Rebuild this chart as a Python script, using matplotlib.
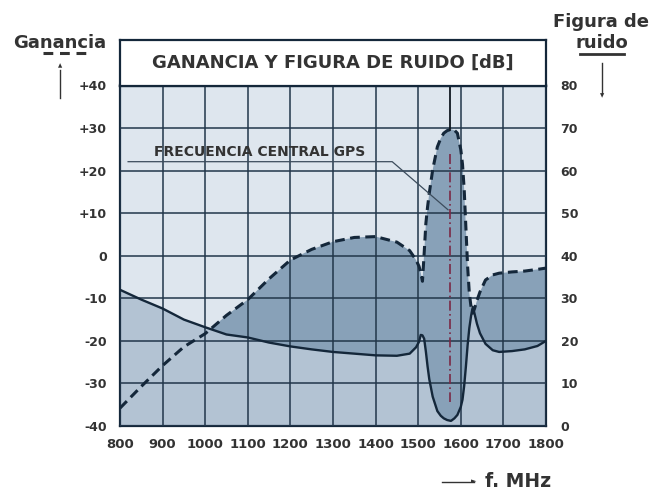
import numpy as np
import matplotlib
matplotlib.use("Agg")
from matplotlib import pyplot as plt

# frecuencia (MHz), ganancia (dB, eje izq.), figura de ruido (dB, eje der.)
freq = [800, 850, 900, 950, 1000, 1050, 1100, 1150, 1200, 1250, 1300, 1350,
        1400, 1450, 1480, 1495, 1502, 1506, 1510, 1514, 1518, 1522, 1526,
        1534, 1545, 1553, 1560, 1568, 1577, 1585, 1592, 1600, 1604, 1608,
        1612, 1616, 1620, 1624, 1628, 1632, 1638, 1645, 1658, 1675, 1690,
        1720, 1750, 1780, 1800]
gain = [-35.8, -30.7, -25.8, -21.4, -18.3, -14.0, -10.3, -5.4, -1.0, 1.5,
        3.3, 4.3, 4.5, 3.2, 1.2, -1.0, -2.5, -4.0, -6.0, 0.6, 7.6, 11.5,
        14.7, 20.2, 25.6, 27.6, 28.8, 29.4, 29.7, 29.5, 28.8, 24.9, 21.5,
        15.5, 6.5, -2.5, -8.8, -12.0, -13.5, -12.5, -10.5, -8.5, -5.7, -4.5,
        -4.1, -3.8, -3.6, -3.2, -2.9]
noise = [32.0, 29.7, 27.6, 25.0, 23.2, 21.5, 20.8, 19.6, 18.7, 18.0, 17.4,
         17.0, 16.6, 16.5, 17.0, 18.5, 19.8, 21.4, 21.3, 20.5, 17.5, 14.0,
         11.0, 6.9, 3.5, 2.4, 1.8, 1.4, 1.2, 1.8, 2.6, 4.5, 6.2, 9.5, 14.0,
         19.0, 23.0, 25.8, 28.0, 26.5, 24.0, 21.8, 19.3, 17.8, 17.4, 17.6,
         18.0, 18.8, 20.0]

gain_ticks = ['-40', '-30', '-20', '-10', '0', '+10', '+20', '+30', '+40']
noise_ticks = ['0', '10', '20', '30', '40', '50', '60', '70', '80']
freq_ticks = list(range(800, 1801, 100))
gps_freq = 1575.42

W, H = 671, 497
line_col = '#14273a'
text_col = '#333333'

f = np.array(freq)
g = np.array(gain)
nf = np.array(noise) - 40  # en unidades del eje izquierdo

fig = plt.figure(figsize=(W / 100, H / 100), dpi=100)
ax = fig.add_axes([120 / W, 1 - 426 / H, 426 / W, 340.5 / H])
ax.set_xlim(800, 1800)
ax.set_ylim(-40, 40)
ax.set_facecolor('#dee6ee')

ax.fill_between(f, -40, nf, color='#b3c3d3', lw=0, zorder=1)
ax.fill_between(f, nf, g, where=g > nf, interpolate=True,
                color='#88a1b8', lw=0, zorder=1)

ax.set_xticks(freq_ticks)
ax.set_yticks(range(-40, 41, 10))
ax.set_yticklabels(gain_ticks)
ax.grid(color='#22364a', lw=1.1, zorder=2)
ax.set_axisbelow(False)
for s in ax.spines.values():
    s.set_linewidth(1.6)
    s.set_color(line_col)
ax.tick_params(length=0, labelcolor=text_col)
ax.tick_params(axis='y', pad=9.5, labelsize=9)
ax.tick_params(axis='x', pad=9, labelsize=9.5)
for lab in ax.get_xticklabels() + ax.get_yticklabels():
    lab.set_fontweight('bold')

# curvas
ax.plot(f, nf, color=line_col, lw=1.7, zorder=4)
ax.plot(f, g, color=line_col, lw=2.2, dashes=(3.2, 1.8), zorder=4)

# frecuencia central GPS
ax.plot([gps_freq, gps_freq], [40, 29.6], color='#101820', lw=1.3, zorder=5)
ax.plot([gps_freq, gps_freq], [24, -34.3], color='#7a2845', lw=1.2,
        dashes=(6, 2, 1, 2), zorder=5)
ax.plot([819, 1439, 1570], [22.1, 22.1, 10.8], color='#3c4c5c', lw=0.9, zorder=5)
ax.text(1128, 24.3, 'FRECUENCIA CENTRAL GPS', ha='center', va='center',
        fontsize=10, fontweight='bold', color=text_col, zorder=6)

# eje derecho
ax2 = ax.twinx()
ax2.set_ylim(0, 80)
ax2.set_yticks(range(0, 81, 10))
ax2.set_yticklabels(noise_ticks)
ax2.tick_params(length=0, pad=10.5, labelsize=9, labelcolor=text_col)
for lab in ax2.get_yticklabels():
    lab.set_fontweight('bold')
for s in ax2.spines.values():
    s.set_visible(False)

# caja de titulo
tax = fig.add_axes([120 / W, 1 - 85.5 / H, 426 / W, 45.5 / H])
tax.set_xticks([])
tax.set_yticks([])
tax.set_facecolor('white')
for s in tax.spines.values():
    s.set_linewidth(1.6)
    s.set_color(line_col)
fig.text(333 / W, 1 - 68 / H, 'GANANCIA Y FIGURA DE RUIDO [dB]', ha='center',
         va='baseline', fontsize=13, fontweight='bold', color=text_col)

# etiquetas de ejes
fig.text(60 / W, 1 - 48 / H, 'Ganancia', ha='center', va='baseline',
         fontsize=13, fontweight='bold', color=text_col)
fig.add_artist(plt.Line2D([43 / W, 86 / W], [1 - 53 / H, 1 - 53 / H],
                          color=text_col, lw=2.2, dashes=(3.2, 2.2)))
fig.add_artist(plt.Line2D([60 / W, 60 / W], [1 - 98 / H, 1 - 70 / H],
                          color=text_col, lw=1))
fig.text(60 / W, 1 - 66 / H, '▲', ha='center', va='center', fontsize=4,
         color=text_col)

fig.text(601 / W, 1 - 27 / H, 'Figura de', ha='center', va='baseline',
         fontsize=13, fontweight='bold', color=text_col)
fig.text(602 / W, 1 - 48 / H, 'ruido', ha='center', va='baseline',
         fontsize=13, fontweight='bold', color=text_col)
fig.add_artist(plt.Line2D([580 / W, 624 / W], [1 - 53.5 / H, 1 - 53.5 / H],
                          color=text_col, lw=2))
fig.add_artist(plt.Line2D([602 / W, 602 / W], [1 - 63 / H, 1 - 93 / H],
                          color=text_col, lw=1))
fig.text(602 / W, 1 - 96 / H, '▼', ha='center', va='center', fontsize=4,
         color=text_col)

fig.add_artist(plt.Line2D([442 / W, 474 / W], [1 - 481.5 / H, 1 - 481.5 / H],
                          color=text_col, lw=1))
fig.text(474 / W, 1 - 481.5 / H, '►', ha='center', va='center', fontsize=5,
         color=text_col)
fig.text(485 / W, 1 - 487 / H, 'f. MHz', ha='left', va='baseline',
         fontsize=13.5, fontweight='bold', color=text_col)

fig.savefig('out.png', dpi=100)
